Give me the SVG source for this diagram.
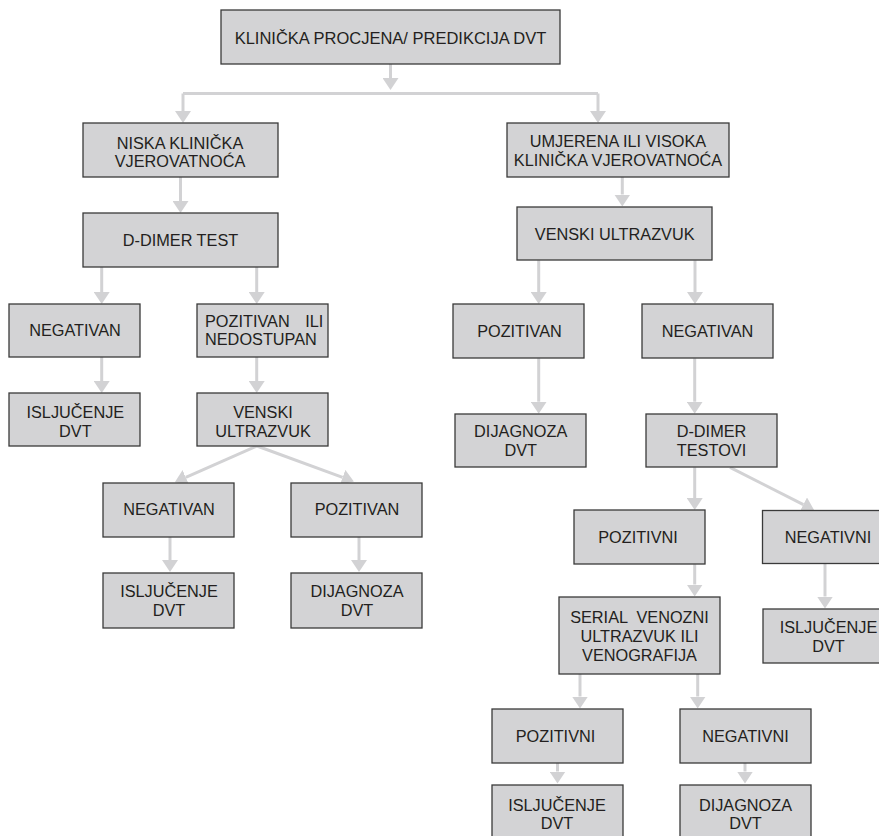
<svg xmlns="http://www.w3.org/2000/svg" width="879" height="836" viewBox="0 0 879 836">
<style>
.box rect{fill:#d3d3d5;stroke:#3a3a3a;stroke-width:1.3}
.box text{font-family:"Liberation Sans",Arial,sans-serif;font-size:16.3px;fill:#231f20;text-anchor:middle}
.c{fill:none;stroke:#d2d2d4;stroke-width:3;marker-end:url(#ah)}
.l{fill:none;stroke:#d2d2d4;stroke-width:3}
</style>
<defs>
<marker id="ah" markerUnits="userSpaceOnUse" markerWidth="12" markerHeight="16" refX="0" refY="8" orient="auto" viewBox="0 0 12 16">
<path d="M0,0 L12,8 L0,16 z" fill="#d2d2d4"/>
</marker>
</defs>
<rect width="879" height="836" fill="#ffffff"/>
<g id="connectors">
<path class="c" d="M390.5,64 V78"/>
<path class="l" d="M390.5,93.5 H183 M390.5,93.5 H598"/>
<path class="c" d="M183,93.5 V111"/>
<path class="c" d="M598,93.5 V111"/>
<path class="c" d="M180.5,177 V201"/>
<path class="c" d="M101.7,267 V292"/>
<path class="c" d="M256.7,267 V292"/>
<path class="c" d="M101.7,357 V381"/>
<path class="c" d="M256.7,357 V381"/>
<path class="c" d="M257,446 L185.8,477.4"/>
<path class="c" d="M257,446 L342.6,477.4"/>
<path class="c" d="M170,537 V560"/>
<path class="c" d="M359,537 V560"/>
<path class="c" d="M622.3,177 V194.5"/>
<path class="c" d="M538.7,260.3 V292"/>
<path class="c" d="M695,260.3 V292"/>
<path class="c" d="M538.7,358.3 V401.7"/>
<path class="c" d="M694.7,358.3 V401.7"/>
<path class="c" d="M694.7,467.3 V498"/>
<path class="c" d="M730,467.3 L803.4,504.6"/>
<path class="c" d="M825,563.5 V596.5"/>
<path class="c" d="M694.7,564.3 V584.5"/>
<path class="c" d="M580,674 V696.5"/>
<path class="c" d="M697.7,674 V696.5"/>
<path class="c" d="M557.5,762.7 V771.5"/>
<path class="c" d="M745,762.7 V771.5"/>
</g>
<g id="n1" class="box"><rect x="221" y="10" width="339" height="54"/><text x="390.5" y="44" style="font-size:16.5px">KLINIČKA PROCJENA/ PREDIKCIJA DVT</text></g>
<g id="n2" class="box"><rect x="83" y="123" width="195" height="54"/><text x="180" y="148.5">NISKA KLINIČKA</text><text x="180" y="167">VJEROVATNOĆA</text></g>
<g id="n3" class="box"><rect x="507" y="123" width="222" height="54"/><text x="618" y="146.7">UMJERENA ILI VISOKA</text><text x="618" y="165.7">KLINIČKA VJEROVATNOĆA</text></g>
<g id="n4" class="box"><rect x="83" y="213" width="195" height="54"/><text x="180.5" y="245.7">D-DIMER TEST</text></g>
<g id="n5" class="box"><rect x="517" y="207" width="195" height="53"/><text x="614.7" y="240">VENSKI ULTRAZVUK</text></g>
<g id="n6" class="box"><rect x="9" y="304" width="131" height="53"/><text x="75" y="336">NEGATIVAN</text></g>
<g id="n7" class="box"><rect x="197" y="304" width="131" height="53"/><text x="205" y="326.7" style="text-anchor:start" word-spacing="11">POZITIVAN ILI</text><text x="205" y="345" style="text-anchor:start">NEDOSTUPAN</text></g>
<g id="n8" class="box"><rect x="9" y="393" width="131" height="53"/><text x="75.3" y="418.3">ISLJUČENJE</text><text x="75.3" y="436.7">DVT</text></g>
<g id="n9" class="box"><rect x="197" y="393" width="131" height="53"/><text x="263" y="418.3">VENSKI</text><text x="263" y="436.7">ULTRAZVUK</text></g>
<g id="n10" class="box"><rect x="103" y="483" width="131" height="54"/><text x="169" y="515">NEGATIVAN</text></g>
<g id="n11" class="box"><rect x="291" y="483" width="131" height="54"/><text x="357" y="515">POZITIVAN</text></g>
<g id="n12" class="box"><rect x="103" y="573" width="131" height="55"/><text x="169" y="597">ISLJUČENJE</text><text x="169" y="616">DVT</text></g>
<g id="n13" class="box"><rect x="291" y="573" width="131" height="55"/><text x="357" y="597">DIJAGNOZA</text><text x="357" y="616">DVT</text></g>
<g id="n14" class="box"><rect x="453" y="304" width="131" height="54"/><text x="519.5" y="337.3">POZITIVAN</text></g>
<g id="n15" class="box"><rect x="642" y="304" width="131" height="54"/><text x="707.5" y="337.3">NEGATIVAN</text></g>
<g id="n16" class="box"><rect x="455" y="414" width="131" height="53"/><text x="520.7" y="437.3">DIJAGNOZA</text><text x="520.7" y="455.7">DVT</text></g>
<g id="n17" class="box"><rect x="646" y="414" width="131" height="53"/><text x="711.5" y="437.3">D-DIMER</text><text x="711.5" y="455.7">TESTOVI</text></g>
<g id="n18" class="box"><rect x="574" y="510" width="131" height="54"/><text x="638" y="543.3">POZITIVNI</text></g>
<g id="n19" class="box"><rect x="762.5" y="510.5" width="131" height="53"/><text x="828" y="543.3">NEGATIVNI</text></g>
<g id="n20" class="box"><rect x="559" y="597" width="161" height="77"/><text x="639.5" y="623.3" xml:space="preserve">SERIAL  VENOZNI</text><text x="639.5" y="642.3">ULTRAZVUK ILI</text><text x="639.5" y="660.7">VENOGRAFIJA</text></g>
<g id="n21" class="box"><rect x="763" y="609" width="131" height="54"/><text x="828.5" y="633.3">ISLJUČENJE</text><text x="828.5" y="652.3">DVT</text></g>
<g id="n22" class="box"><rect x="492" y="709" width="131" height="54"/><text x="555.5" y="741.7">POZITIVNI</text></g>
<g id="n23" class="box"><rect x="680" y="709" width="131" height="54"/><text x="745.5" y="741.7">NEGATIVNI</text></g>
<g id="n24" class="box"><rect x="492" y="785" width="131" height="60"/><text x="557" y="811">ISLJUČENJE</text><text x="557" y="829">DVT</text></g>
<g id="n25" class="box"><rect x="680" y="785" width="131" height="60"/><text x="745.5" y="811">DIJAGNOZA</text><text x="745.5" y="829">DVT</text></g>
</svg>
